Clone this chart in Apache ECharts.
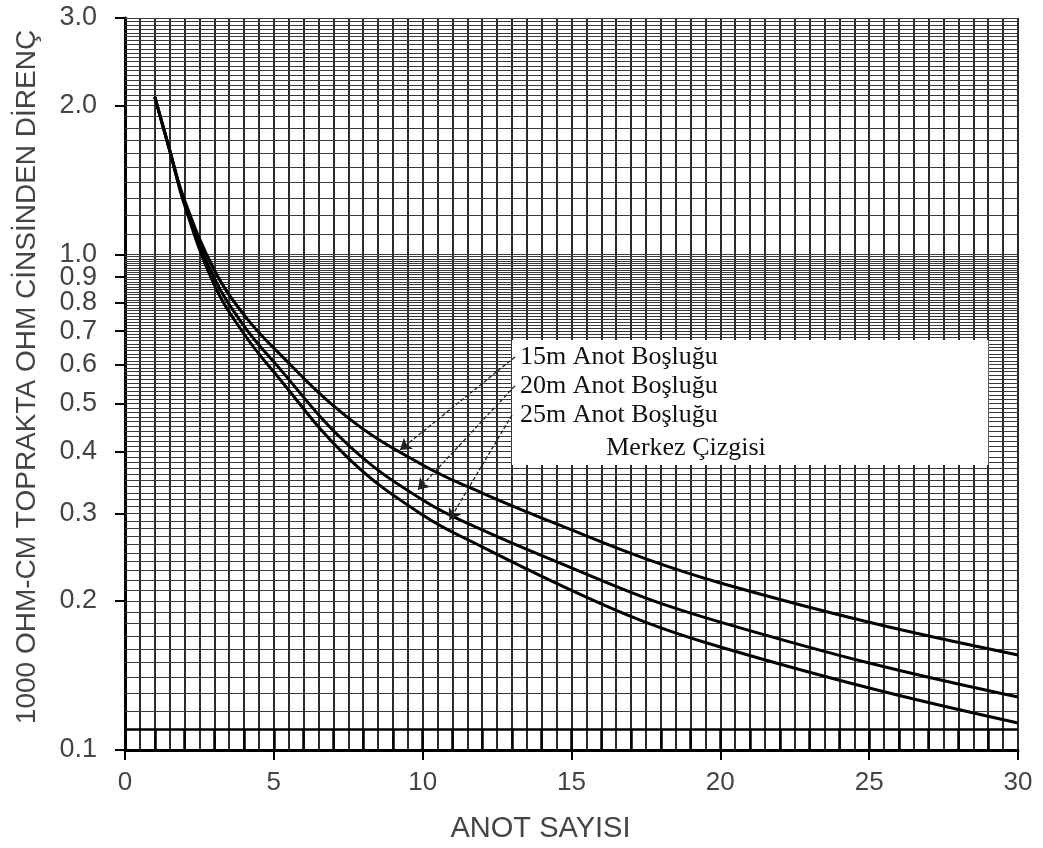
<!DOCTYPE html>
<html>
<head>
<meta charset="utf-8">
<script src="https://cdn.jsdelivr.net/npm/echarts@6/dist/echarts.min.js"></script>
<style>
  html, body { margin: 0; padding: 0; background: #fff; }
  #myChart { width: 1043px; height: 848px; }
</style>
</head>
<body>
<div id="myChart"></div>
<script>
// anot sayisi (x) ve direnc degerleri (y, log olcek)
const anotSayisi = [1, 1.5, 2, 3, 4, 5, 7.5, 10, 12, 15, 17.5, 20, 25, 30];
const bosluk15 = [2.08, 1.624, 1.288, 0.930, 0.755, 0.647, 0.468, 0.376, 0.330, 0.278, 0.243, 0.2173, 0.181, 0.1555];
const bosluk20 = [2.08, 1.624, 1.270, 0.896, 0.717, 0.607, 0.4125, 0.3195, 0.278, 0.233, 0.2026, 0.1812, 0.1498, 0.1279];
const bosluk25 = [2.08, 1.624, 1.258, 0.868, 0.691, 0.579, 0.388, 0.298, 0.257, 0.210, 0.181, 0.1614, 0.1334, 0.1134];

const yTickLabels = [0.1, 0.2, 0.3, 0.4, 0.5, 0.6, 0.7, 0.8, 0.9, 1.0, 2.0, 3.0];
const xTickLabels = [0, 5, 10, 15, 20, 25, 30];
const notes = ['15m Anot Boşluğu', '20m Anot Boşluğu', '25m Anot Boşluğu', 'Merkez Çizgisi'];

// milimetrik kagit cizgileri
function steps(from, to, step) {
    const out = [];
    const n = Math.round((to - from) / step);
    for (let i = 0; i <= n; i++) out.push(+(from + i * step).toFixed(3));
    return out;
}
const hLines = Array.from(new Set([].concat(
    steps(0.12, 0.16, 0.01),
    steps(0.16, 0.20, 0.005),
    steps(0.20, 1.00, 0.01),
    steps(1.0, 2.0, 0.1),
    steps(2.0, 3.0, 0.05)
)));
const bandLines = steps(1, 29, 1);

const toPairs = ys => anotSayisi.map((x, i) => [x, ys[i]]);
const textFont = 'Liberation Sans, Arial, sans-serif';
const serifFont = 'Liberation Serif, Times New Roman, serif';

let myChart = echarts.init(document.getElementById('myChart'));
let curve = (name, ys) => ({
    name: name,
    type: 'line',
    data: toPairs(ys),
    smooth: 0.4,
    showSymbol: false,
    symbol: 'none',
    z: 4,
    lineStyle: { color: '#000', width: 3 },
    animation: false
});

let option = {
    backgroundColor: '#fff',
    animation: false,
    grid: { left: 125, right: 25, top: 18, bottom: 98, containLabel: false },
    xAxis: [
        {
            type: 'value', min: 0, max: 30, interval: 5,
            axisLine: { onZero: false, lineStyle: { color: '#000', width: 3 } },
            axisTick: { show: true, length: 10, lineStyle: { color: '#000', width: 2 } },
            axisLabel: { fontSize: 26, color: '#444', fontFamily: textFont, margin: 20,
                formatter: v => xTickLabels.indexOf(v) >= 0 ? String(v) : '' },
            splitLine: { show: false },
            name: 'ANOT SAYISI', nameLocation: 'middle', nameGap: 64,
            nameTextStyle: { fontSize: 29, color: '#444', fontFamily: textFont, padding: [0, 62, 0, 0] }
        },
        {
            // ince dikey cizgiler
            type: 'value', min: 0, max: 30, interval: 0.5, position: 'top',
            axisLine: { show: false }, axisTick: { show: false }, axisLabel: { show: false },
            splitLine: { show: true, lineStyle: { color: '#2a2a2a', width: 2 } }
        }
    ],
    yAxis: {
        type: 'log', logBase: 10, min: 0.1, max: 3,
        axisLine: { show: true, lineStyle: { color: '#000', width: 3 } },
        axisTick: { show: true, length: 10, customValues: yTickLabels,
            lineStyle: { color: '#000', width: 2 } },
        axisLabel: { customValues: yTickLabels, fontSize: 27, color: '#444',
            fontFamily: textFont, margin: 28, hideOverlap: false,
            formatter: v => Number(v).toFixed(1) },
        splitLine: { show: false },
        minorTick: { show: false },
        name: '1000 OHM-CM TOPRAKTA OHM CİNSİNDEN DİRENÇ',
        nameLocation: 'middle', nameRotate: 90, nameGap: 84,
        nameTextStyle: { fontSize: 28, color: '#444', fontFamily: textFont, padding: [0, 0, 0, 14] }
    },
    series: [
        {
            // yatay cizgiler + alt bant
            name: 'grid',
            type: 'line',
            data: [],
            silent: true,
            markLine: {
                silent: true, animation: false, symbol: 'none', z: 1,
                label: { show: false },
                lineStyle: { color: '#3a3a3a', width: 1, type: 'solid' },
                data: hLines.map(v => ({ yAxis: v }))
                    .concat([{ yAxis: 0.11, lineStyle: { color: '#000', width: 2.5, type: 'solid' } }])
                    .concat(bandLines.map(i => [
                        { coord: [i, 0.1], lineStyle: { color: '#000', width: 2.5, type: 'solid' } },
                        { coord: [i, 0.11] }
                    ]))
            }
        },
        {
            // etiket kutusu
            name: 'box',
            type: 'line',
            data: [],
            silent: true,
            markArea: {
                silent: true, z: 2,
                itemStyle: { color: '#fff', opacity: 1 },
                data: [[{ coord: [13.0, 0.672] }, { coord: [29.0, 0.376] }]]
            }
        },
        curve(notes[0], bosluk15),
        curve(notes[1], bosluk20),
        curve(notes[2], bosluk25),
        {
            // oklar ve yazilar
            name: 'notes',
            type: 'line',
            data: [],
            silent: true,
            markLine: {
                silent: true, animation: false, z: 6,
                symbol: ['none', 'arrow'], symbolSize: 11,
                label: { show: false },
                lineStyle: { color: '#222', width: 1.3, type: [4, 2], curveness: 0.36 },
                data: [
                    [{ coord: [13.1, 0.621] }, { coord: [9.24, 0.403] }],
                    [{ coord: [13.1, 0.543] }, { coord: [9.84, 0.335] }],
                    [{ coord: [13.0, 0.474] }, { coord: [10.9, 0.291] }]
                ]
            },
            markPoint: {
                silent: true, animation: false, z: 7,
                symbol: 'circle', symbolSize: 0,
                label: { show: true, position: 'right', distance: 2, formatter: '{b}',
                    fontSize: 26, color: '#111', fontFamily: serifFont },
                data: [
                    { name: notes[0], coord: [13.2, 0.621] },
                    { name: notes[1], coord: [13.2, 0.543] },
                    { name: notes[2], coord: [13.2, 0.474] },
                    { name: notes[3], coord: [16.1, 0.407] }
                ]
            }
        }
    ]
};
myChart.setOption(option);
</script>
</body>
</html>
